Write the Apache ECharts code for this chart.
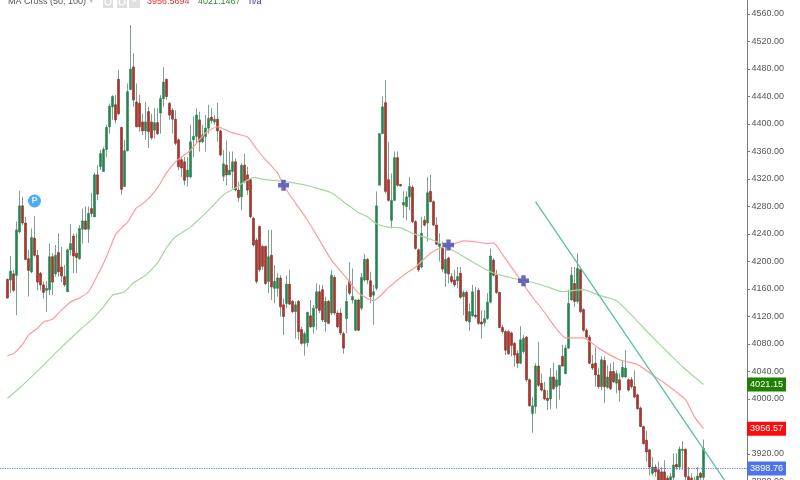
<!DOCTYPE html>
<html><head><meta charset="utf-8">
<style>html,body{margin:0;padding:0;background:#fff;overflow:hidden}#c{width:800px;height:480px;filter:blur(0.4px)}</style>
<script src="https://cdn.jsdelivr.net/npm/echarts@6/dist/echarts.min.js"></script>
</head><body><div id="c"></div>
<script>
// [open, close, low, high]
const ohlc=[
[4174,4147,4146,4175],[4173,4186,4154,4208],[4182,4158,4156,4188],[4180,4246,4122,4258],[4243,4281,4241,4303],[4281,4256,4253,4294],[4256,4203,4202,4265],[4204,4187,4149,4217],[4185,4235,4183,4248],[4234,4209,4207,4266],
[4209,4170,4158,4217],[4183,4166,4158,4185],[4166,4155,4146,4171],[4158,4161,4127,4171],[4159,4207,4151,4226],[4207,4170,4151,4212],[4182,4209,4178,4224],[4213,4185,4178,4241],[4192,4179,4170,4221],[4178,4166,4163,4195],
[4156,4217,4156,4219],[4217,4226,4209,4254],[4237,4208,4183,4241],[4212,4206,4183,4241],[4204,4248,4203,4253],[4247,4259,4226,4277],[4259,4247,4246,4280],[4247,4270,4227,4280],[4277,4270,4265,4300],[4265,4326,4265,4329],
[4326,4298,4289,4340],[4338,4357,4333,4362],[4331,4363,4331,4367],[4363,4395,4352,4399],[4396,4426,4386,4430],[4425,4440,4406,4442],[4428,4406,4401,4442],[4465,4415,4413,4479],[4395,4305,4297,4396],[4309,4361,4309,4377],
[4361,4447,4360,4459],[4450,4480,4450,4544],[4483,4435,4425,4503],[4432,4396,4395,4459],[4430,4396,4389,4442],[4403,4390,4384,4415],[4390,4403,4377,4432],[4418,4389,4365,4425],[4403,4380,4377,4415],[4391,4402,4379,4423],
[4402,4386,4384,4423],[4416,4437,4386,4442],[4437,4461,4425,4483],[4465,4440,4435,4466],[4430,4413,4406,4432],[4420,4407,4386,4423],[4407,4372,4369,4420],[4377,4338,4333,4379],[4348,4336,4323,4352],[4345,4318,4311,4352],
[4323,4333,4309,4352],[4323,4374,4321,4399],[4377,4382,4352,4411],[4382,4413,4372,4423],[4406,4374,4360,4418],[4374,4384,4372,4399],[4382,4394,4360,4413],[4394,4408,4386,4428],[4410,4405,4401,4423],[4403,4407,4399,4413],
[4407,4390,4374,4431],[4390,4355,4353,4392],[4324,4342,4317,4362],[4340,4326,4311,4376],[4326,4333,4326,4360],[4331,4345,4306,4360],[4345,4304,4302,4350],[4304,4293,4287,4316],[4294,4340,4275,4343],[4340,4316,4314,4357],
[4326,4304,4297,4338],[4319,4265,4263,4321],[4263,4224,4222,4265],[4231,4171,4168,4234],[4251,4188,4185,4252],[4222,4193,4188,4224],[4222,4168,4166,4223],[4171,4207,4154,4246],[4209,4163,4144,4246],[4161,4171,4139,4195],
[4161,4176,4149,4183],[4176,4134,4120,4180],[4137,4120,4093,4146],[4139,4167,4132,4180],[4167,4138,4137,4188],[4142,4127,4125,4144],[4127,4137,4088,4142],[4142,4098,4086,4144],[4101,4081,4079,4105],[4081,4095,4063,4098],
[4082,4126,4076,4127],[4121,4105,4103,4144],[4105,4132,4095,4137],[4132,4156,4100,4168],[4156,4129,4125,4166],[4159,4115,4112,4166],[4112,4142,4098,4149],[4142,4110,4110,4144],[4125,4180,4122,4188],[4177,4125,4122,4180],
[4125,4105,4103,4129],[4125,4096,4093,4132],[4095,4074,4066,4098],[4117,4142,4096,4166],[4171,4154,4151,4199],[4144,4149,4139,4190],[4100,4144,4099,4145],[4144,4100,4099,4146],[4132,4177,4129,4183],[4173,4203,4171,4211],
[4203,4173,4167,4205],[4172,4149,4139,4185],[4151,4156,4108,4166],[4161,4281,4158,4302],[4311,4386,4311,4386],[4386,4425,4386,4440],[4431,4302,4299,4464],[4319,4289,4287,4374],[4260,4289,4248,4328],[4289,4351,4288,4360],
[4351,4311,4309,4360],[4312,4310,4309,4313],[4282,4286,4263,4302],[4280,4294,4260,4302],[4294,4309,4275,4323],[4308,4258,4256,4311],[4258,4219,4217,4260],[4217,4188,4185,4219],[4192,4241,4190,4265],[4260,4253,4251,4266],
[4256,4300,4229,4323],[4302,4287,4286,4326],[4287,4253,4251,4289],[4253,4225,4224,4265],[4222,4226,4200,4241],[4219,4189,4185,4229],[4183,4203,4163,4222],[4205,4182,4168,4207],[4178,4171,4168,4183],[4173,4166,4163,4188],
[4172,4178,4161,4192],[4183,4148,4146,4192],[4149,4155,4122,4158],[4155,4114,4112,4158],[4112,4127,4099,4139],[4121,4156,4119,4166],[4122,4120,4117,4163],[4158,4110,4108,4161],[4112,4109,4088,4129],[4111,4117,4106,4129],
[4117,4141,4115,4154],[4141,4208,4139,4219],[4202,4180,4178,4205],[4180,4155,4153,4188],[4155,4104,4103,4156],[4104,4098,4095,4108],[4098,4071,4064,4100],[4098,4066,4064,4100],[4096,4078,4062,4098],[4081,4064,4047,4083],
[4066,4052,4045,4071],[4052,4086,4051,4106],[4069,4088,4066,4093],[4090,4028,4025,4092],[4028,3990,3989,4030],[3979,3990,3951,4003],[3989,4048,3979,4052],[4048,4020,4018,4083],[4023,4013,4011,4037],[4013,4000,3998,4025],
[4001,3998,3984,4013],[4000,4032,3985,4045],[4032,4015,4013,4053],[4018,4028,3986,4042],[4020,4049,3999,4049],[4062,4048,4047,4079],[4037,4074,4036,4079],[4074,4139,4073,4159],[4144,4180,4143,4192],[4168,4142,4134,4192],
[4142,4190,4139,4212],[4188,4127,4125,4189],[4130,4100,4098,4132],[4100,4090,4088,4103],[4090,4052,4051,4093],[4051,4045,4042,4064],[4052,4035,4018,4075],[4035,4018,4015,4045],[4018,4057,4013,4062],[4056,4018,3994,4062],
[4017,4032,4015,4049],[4040,4015,4013,4052],[4040,4025,4023,4054],[4023,4037,4008,4042],[4028,4013,3996,4037],[4032,4046,4031,4057],[4032,4045,4031,4071],[4028,4013,4011,4030],[4028,4018,4015,4032],[4018,4003,4001,4042],
[4006,3986,3984,4008],[3987,3960,3959,3989],[3960,3935,3934,3961],[3940,3923,3909,3954],[3926,3901,3889,3927],[3892,3901,3889,3916],[3901,3894,3887,3905],[3897,3882,3872,3909],[3894,3877,3870,3901],[3894,3872,3870,3911],
[3885,3872,3870,3889],[3880,3887,3872,3892],[3886,3904,3877,3921],[3905,3901,3897,3921],[3901,3927,3897,3931],[3925,3927,3897,3939],[3927,3887,3880,3928],[3887,3877,3875,3901],[3885,3875,3872,3892],[3875,3882,3870,3887],
[3882,3888,3877,3901],[3892,3886,3882,3894],[3886,3928,3881,3941]
];
const ma50Bars=[0,2,5,7,10,12,15,17,21,24,27,30,33,36,38,40,43,46,50,53,56,61,66,70,75,80,83,86,90,92,96,100,104,108,113,117,122,127,132,136,141,145,148,152,157,160,162,165,171,175,178,183,186,192,197,204,210,215,220,226,229,232];
const ma50Vals=[4063,4066,4079,4093,4103,4112,4116,4125,4141,4147,4156,4180,4207,4239,4249,4257,4278,4287,4307,4329,4345,4362,4387,4396,4387,4381,4364,4348,4329,4311,4285,4260,4231,4202,4176,4154,4143,4162,4180,4192,4212,4221,4224,4230,4228,4226,4227,4210,4173,4148,4132,4102,4089,4089,4074,4057,4050,4035,4020,3999,3974,3957];
const ma100Bars=[0,4,11,17,24,28,32,35,39,42,46,50,53,56,61,64,68,72,76,79,82,86,91,96,102,108,112,117,120,123,127,131,135,142,147,154,161,168,173,180,185,192,197,203,208,215,221,225,232];
const ma100Vals=[4001,4016,4045,4071,4100,4115,4134,4151,4156,4169,4180,4198,4220,4236,4250,4262,4279,4297,4307,4316,4322,4319,4317,4314,4308,4300,4287,4271,4265,4255,4250,4249,4241,4231,4220,4202,4185,4176,4172,4163,4156,4159,4151,4143,4122,4090,4064,4047,4021];
const crossBars=[92,147,172];
const crossVals=[4311,4224,4172];
const trendBars=[176,239];
const trendVals=[4287,3882];
const pivotBar=9, pivotVal=4288;
const lastClose=3898.76, ma50Last=3956.57, ma100Last=4021.15;
const legendTexts=["MA Cross (50, 100)","3956.5694","4021.1467","n/a"];

const PAD=2, TOTAL=249;
const categories=Array.from({length:TOTAL},(_,i)=>String(i));
const at=(bars,vals)=>bars.map((b,i)=>[b+PAD,vals[i]]);
const pad=Array(PAD).fill('-');
const wicks=pad.concat(ohlc);
const bodies=pad.concat(ohlc.map(r=>[r[0],r[1],Math.min(r[0],r[1]),Math.max(r[0],r[1])]));
const FF='Liberation Sans';
const tagLabel=(v,bg)=>({show:true,position:'end',distance:0,formatter:v.toFixed(2),
  backgroundColor:bg,color:'#fff',fontFamily:FF,fontSize:9.2,width:36,height:14,lineHeight:14,align:'left',verticalAlign:'middle',padding:[0,0,0,3]});
const tag=(v,bg)=>({yAxis:v,symbol:'none',lineStyle:{color:'rgba(0,0,0,0)',width:0},label:tagLabel(v,bg)});
const chart=echarts.init(document.getElementById('c'),null,{renderer:'canvas'});
chart.setOption({
  animation:false,
  grid:{left:0,top:-13.5,width:747,height:495,outerBoundsMode:'none',containLabel:false},
  xAxis:{type:'category',data:categories,show:false,boundaryGap:true},
  yAxis:{type:'value',position:'right',min:3880,max:4600,interval:40,scale:true,
    axisLine:{show:true,lineStyle:{color:'#7a7a7a',width:1}},
    axisTick:{show:true,length:3,lineStyle:{color:'#7a7a7a'}},
    axisLabel:{color:'#555',fontFamily:FF,fontSize:9,margin:4.5,formatter:v=>v.toFixed(2)},
    splitLine:{show:false}},
  graphic:[
    {type:'text',x:8,y:-3,style:{text:legendTexts[0],fill:'#555',font:'9px Liberation Sans'}},
    {type:'text',x:89,y:-4,style:{text:'▾',fill:'#bbb',font:'9px DejaVu Sans'}},
    {type:'rect',shape:{x:103,y:-4,width:10,height:12},style:{fill:'#dfdfdf'}},
    {type:'rect',shape:{x:117,y:-4,width:10,height:12},style:{fill:'#dfdfdf'}},
    {type:'rect',shape:{x:129,y:-4,width:11,height:12},style:{fill:'#dfdfdf'}},
    {type:'circle',shape:{cx:108,cy:2,r:3},style:{fill:'none',stroke:'#fff',lineWidth:1.2}},
    {type:'circle',shape:{cx:122,cy:2,r:3},style:{fill:'none',stroke:'#fff',lineWidth:1.2}},
    {type:'text',x:131,y:-3,style:{text:'✕',fill:'#fff',font:'8px DejaVu Sans'}},
    {type:'text',x:147,y:-3,style:{text:legendTexts[1],fill:'#f03030',font:'9px Liberation Sans'}},
    {type:'text',x:198,y:-3,style:{text:legendTexts[2],fill:'#2e8b2e',font:'9px Liberation Sans'}},
    {type:'text',x:249,y:-3,style:{text:legendTexts[3],fill:'#3333aa',font:'9px Liberation Sans'}}
  ],
  series:[
    {name:'wicks',type:'candlestick',data:wicks,barWidth:1,z:2,
      itemStyle:{color:'#7f9f90',color0:'#7f9f90',borderColor:'#7f9f90',borderColor0:'#7f9f90',borderWidth:1}},
    {name:'bodies',type:'candlestick',data:bodies,barWidth:2.6,z:3,
      itemStyle:{color:'#27834f',color0:'#ad352b',borderColor:'#27834f',borderColor0:'#862a23',borderWidth:0.6}},
    {name:'MA 50',type:'line',data:at(ma50Bars,ma50Vals),showSymbol:false,z:4,smooth:0.2,lineStyle:{color:'#ff9a9a',width:1.2},
      markLine:{silent:true,symbol:'none',animation:false,data:[tag(ma50Last,'#f80c0c')]}},
    {name:'MA 100',type:'line',data:at(ma100Bars,ma100Vals),showSymbol:false,z:4,smooth:0.2,lineStyle:{color:'#a5d6a0',width:1.2},
      markLine:{silent:true,symbol:'none',animation:false,data:[tag(ma100Last,'#1e7f00')]}},
    {name:'trend',type:'line',data:at(trendBars,trendVals),showSymbol:false,z:4,lineStyle:{color:'#5dbdaa',width:1.3},
      markLine:{silent:true,symbol:'none',animation:false,lineStyle:{color:'#5f7fe8',type:'dotted',width:1.2},
        data:[{yAxis:lastClose,label:tagLabel(lastClose,'#4d74e8')}]}},
    {name:'cross',type:'scatter',data:at(crossBars,crossVals),z:5,symbolSize:11,
      symbol:'path://M3 0H7V3H10V7H7V10H3V7H0V3H3Z',itemStyle:{color:'#4f4fb5',opacity:.85}},
    {name:'pivot',type:'scatter',data:[[pivotBar+PAD,pivotVal]],z:6,symbol:'circle',symbolSize:13,itemStyle:{color:'#2396f3'},
      label:{show:true,position:'inside',formatter:'P',color:'#fff',fontFamily:FF,fontWeight:'bold',fontSize:9}}
  ]
});
</script></body></html>
